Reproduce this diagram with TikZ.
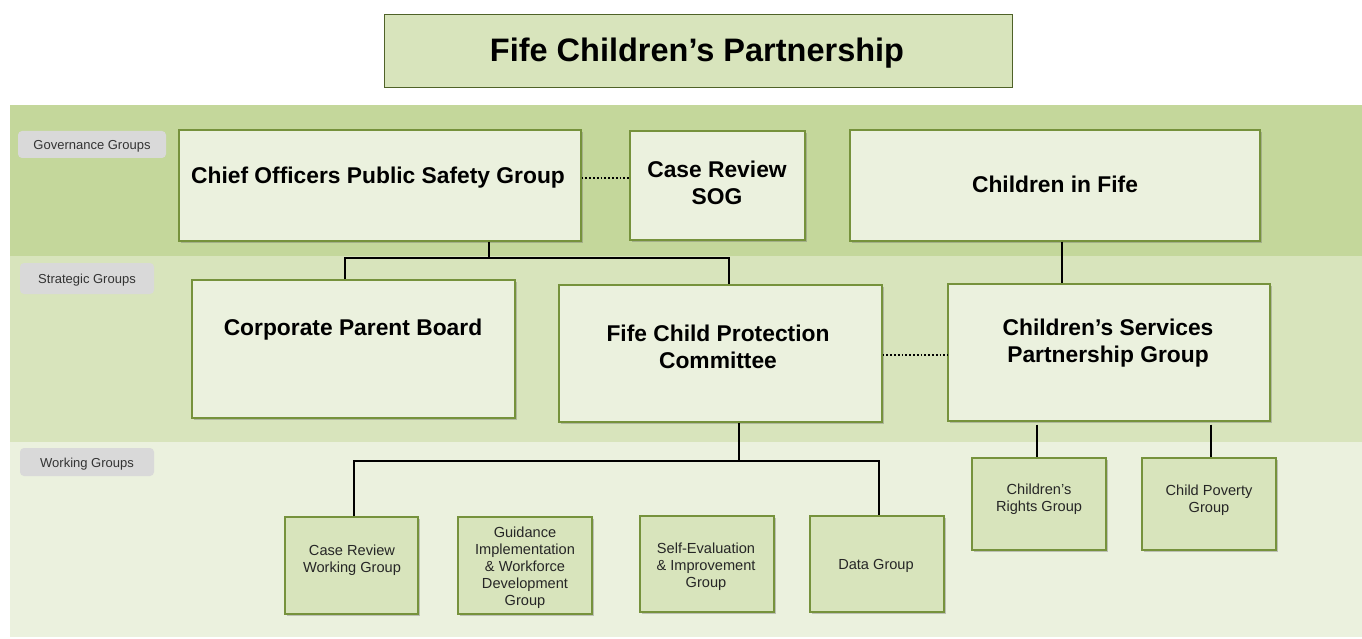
\documentclass[tikz,border=0pt]{standalone}
\usepackage{fontspec}
\setmainfont{Liberation Sans}
\usetikzlibrary{fit,shadows,calc}
\definecolor{bandA}{HTML}{C4D79B}
\definecolor{bandB}{HTML}{D8E4BC}
\definecolor{bandC}{HTML}{EBF1DE}
\definecolor{olive}{HTML}{76923C}
\definecolor{darkolive}{HTML}{4F6228}
\definecolor{lblgray}{HTML}{D9D9D9}
\tikzset{
  box/.style={draw=olive, line width=1.2pt, fill=bandC, inner sep=0pt, fit={#1},
    drop shadow={shadow xshift=2pt, shadow yshift=-2pt, opacity=0.35, fill=black!60}},
  wbox/.style={box={#1}, fill=bandB},
  bigtxt/.style={font=\bfseries\fontsize{22.8}{26.5}\selectfont, align=center, inner sep=0pt},
  smalltxt/.style={font=\fontsize{14.6}{17}\selectfont, align=center, inner sep=0pt, text=black!85},
  lbl/.style={fill=lblgray, rounded corners=4pt, inner sep=0pt, font=\fontsize{13}{15}\selectfont, text=black!80},
  conn/.style={line width=1.6pt, black},
  dotconn/.style={line width=1.8pt, black, dotted}
}
\begin{document}
\begin{tikzpicture}[x=1pt,y=-1pt]
\useasboundingbox (0,0) rectangle (1362,639);
% bands
\fill[bandA] (10,105) rectangle (1362,256);
\fill[bandB] (10,256) rectangle (1362,442);
\fill[bandC] (10,442) rectangle (1362,637);
% title
\node[draw=darkolive, line width=1pt, fill=bandB, inner sep=0pt, fit={(384,15)(1012,88)}] (title) {};
\node[font=\bfseries\fontsize{32.5}{36}\selectfont, inner sep=0pt] (titletxt) at (697,53) {Fife Children’s Partnership};
% row labels
\node[lbl, fit={(18,131)(166,158)}] (lg) {};
\node[lbl, fill=none] at ($(lg.center)+(0,2)$) {Governance Groups};
\node[lbl, fit={(20,263)(154,294)}] (ls) {};
\node[lbl, fill=none] at ($(ls.center)+(0,1.5)$) {Strategic Groups};
\node[lbl, fit={(20,448)(154,476)}] (lw) {};
\node[lbl, fill=none] at ($(lw.center)+(0,2)$) {Working Groups};
% governance
\node[box={(179,130)(581,241)}] (cop) {};
\node[bigtxt] at (378,178) {Chief Officers Public Safety Group};
\node[box={(630,131)(805,240)}] (sog) {};
\node[bigtxt] at (717,183) {Case Review\\SOG};
\node[box={(850,130)(1260,241)}] (cif) {};
\node[bigtxt] at (1055,184) {Children in Fife};
% strategic
\node[box={(192,280)(515,418)}] (cpb) {};
\node[bigtxt] at (353,330) {Corporate Parent Board};
\node[box={(559,285)(882,422)}] (fcpc) {};
\node[bigtxt] at (718,347) {Fife Child Protection\\Committee};
\node[box={(948,284)(1270,421)}] (cspg) {};
\node[bigtxt] at (1108,343) {Children’s Services\\Partnership Group};
% working
\node[wbox={(972,458)(1106,550)}] (crg) {};
\node[smalltxt] at (1039,499) {Children’s\\Rights Group};
\node[wbox={(1142,458)(1276,550)}] (cpg) {};
\node[smalltxt] at (1209,500) {Child Poverty\\Group};
\node[wbox={(285,517)(418,614)}] (crwg) {};
\node[smalltxt] at (352,560) {Case Review\\Working Group};
\node[wbox={(458,517)(592,614)}] (giwd) {};
\node[smalltxt] at (525,568) {Guidance\\Implementation\\\& Workforce\\Development\\Group};
\node[wbox={(640,516)(774,612)}] (sei) {};
\node[smalltxt] at (706,567) {Self-Evaluation\\\& Improvement\\Group};
\node[wbox={(810,516)(944,612)}] (dg) {};
\node[smalltxt] at (876,566) {Data Group};
% connectors
\coordinate (j1) at (489,258);
\draw[conn] (cop.south -| j1) -- (j1);
\draw[conn] (cpb.north -| 345,0) |- (j1) -| (fcpc.north -| 729,0);
\draw[dotconn] (cop.east |- 0,178) -- (sog.west |- 0,178);
\draw[conn] (cif.south -| 1062,0) -- (cspg.north -| 1062,0);
\draw[dotconn] (fcpc.east |- 0,355) -- (cspg.west |- 0,355);
\coordinate (j2) at (739,461);
\draw[conn] (fcpc.south -| j2) -- (j2);
\draw[conn] (crwg.north -| 354,0) |- (j2) -| (dg.north -| 879,0);
\draw[conn] (giwd.north -| 524,0) -- (giwd.north -| 524,461);
\draw[conn] (sei.north -| 706,0) -- (sei.north -| 706,461);
\draw[conn] ($(cspg.south -| 1037,0)+(0,3)$) -- (crg.north -| 1037,0);
\draw[conn] ($(cspg.south -| 1211,0)+(0,3)$) -- (cpg.north -| 1211,0);
\end{tikzpicture}
\end{document}
